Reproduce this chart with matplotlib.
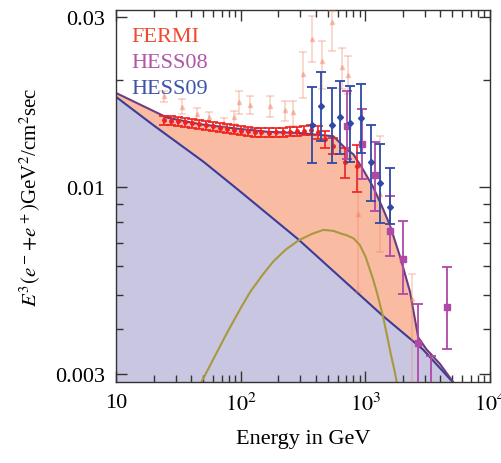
import numpy as np
import matplotlib
matplotlib.use("Agg")
import matplotlib.pyplot as plt
from matplotlib.ticker import FixedLocator, NullFormatter

plt.rcParams['font.family'] = ['Liberation Serif', 'DejaVu Serif']
plt.rcParams['mathtext.fontset'] = 'stix'

# --- model curves (E in GeV, E^3 flux) ---
bg_E = [10, 20, 50, 100, 290, 1000, 1393, 2900, 5000]
bg_F = [0.0179, 0.0149, 0.0118, 0.0097, 0.00714, 0.00483, 0.00435, 0.00351, 0.00285]

dm_E = [47, 60, 77, 100, 119, 150, 182, 230, 290, 370, 459, 553, 650, 700, 800, 900, 1000,
        1100, 1156, 1250, 1393, 1500, 1600, 1700, 1800]
dm_F = [0.0028, 0.0033, 0.0039, 0.0046, 0.0051, 0.0057, 0.0062, 0.0067, 0.0071, 0.0074,
        0.0076, 0.00755, 0.0074, 0.00735, 0.0072, 0.0069, 0.0064, 0.0058, 0.0055, 0.0050,
        0.0043, 0.0038, 0.0034, 0.0031, 0.0028]

tot_E = [10, 25.5, 47.2, 87.3, 161.6, 299, 553, 686, 800, 934, 1157, 1391, 1574, 1895,
         2279, 2656, 3102, 3965, 5041]
tot_F = [0.01837, 0.01569, 0.01503, 0.01465, 0.01432, 0.0142, 0.01391, 0.0129, 0.01238,
         0.01138, 0.0100, 0.00867, 0.00782, 0.0064, 0.0051, 0.00379, 0.00351, 0.0032, 0.00285]

# --- FERMI ---
fermi_E = [24, 27.3, 31.1, 35.4, 40.3, 45.8, 52.1, 59.3, 67.5, 76.8, 87.4, 99.4, 113, 129,
           146, 167, 190, 216, 246, 280, 318, 362, 412, 469, 553, 686, 851]
fermi_F = [0.01543, 0.01538, 0.01532, 0.01522, 0.01513, 0.01503, 0.01494, 0.01484, 0.0147,
           0.0146, 0.01451, 0.01441, 0.01437, 0.01427, 0.01427, 0.01423, 0.01427, 0.01427,
           0.01432, 0.01437, 0.01441, 0.01446, 0.01427, 0.01364, 0.01306, 0.01175, 0.01145]
fermi_err = [0.00046, 0.00046, 0.00046, 0.00046, 0.00045, 0.00045, 0.00045, 0.00045, 0.00044,
             0.00044, 0.00044, 0.00043, 0.00043, 0.00043, 0.00043, 0.00043, 0.00043, 0.00043,
             0.00043, 0.00043, 0.00043, 0.00048, 0.00057, 0.00072, 0.00069, 0.00112, 0.00172]

# --- HESS08 ---
hess08_E = [711, 933, 1194, 1574, 2014, 2654, 3357, 4487]
hess08_F = [0.0149, 0.0132, 0.0108, 0.00754, 0.0063, 0.00366, 0.00275, 0.00461]
hess08_hi = [0.01865, 0.01656, 0.0134, 0.00945, 0.00804, 0.00472, 0.00336, 0.00599]
hess08_lo = [0.0120, 0.01053, 0.00858, 0.0064, 0.00501, 0.0025, 0.0024, 0.00353]

# --- HESS09 ---
hess09_E = [371, 439, 543, 625, 753, 917, 1099, 1303, 1574]
hess09_F = [0.01494, 0.01696, 0.01494, 0.0158, 0.01519, 0.01569, 0.01178, 0.01026, 0.00879]
hess09_hi = [0.01906, 0.02107, 0.01894, 0.0199, 0.01918, 0.01955, 0.01495, 0.0132, 0.01131]
hess09_lo = [0.01173, 0.01346, 0.01168, 0.01238, 0.01178, 0.01246, 0.00915, 0.00796, 0.0079]

# --- faint points in background ---
faint_E = [23.95, 33.6, 44.4, 55.0, 72.5, 87.3, 95.6, 118.7, 171.8, 226.6, 264.2, 317.7,
           371, 446, 537, 646, 729, 877, 1309, 2350]
faint_F = [0.01798, 0.01683, 0.01604, 0.01573, 0.01513, 0.01573, 0.01733, 0.01699, 0.0169,
           0.01645, 0.01624, 0.02077, 0.02605, 0.02259, 0.02901, 0.02173, 0.02064, 0.0084,
           0.00956, 0.00485]
faint_hi = [0.01865, 0.01767, 0.01674, 0.01624, 0.01562, 0.01638, 0.01865, 0.01805, 0.01805,
            0.01747, 0.01747, 0.02389, 0.03028, 0.02576, 0.03121, 0.02452, 0.02329, 0.01138,
            0.01391, 0.0057]
faint_lo = [0.0173, 0.01604, 0.01536, 0.01522, 0.01465, 0.01503, 0.01604, 0.01604, 0.0157,
            0.01536, 0.01486, 0.01786, 0.02249, 0.01885, 0.02414, 0.01885, 0.01825, 0.0051,
            0.00657, 0.00223]


def yerr(F, lo, hi):
    F = np.array(F)
    return [F - np.array(lo), np.array(hi) - F]


fig = plt.figure(figsize=(5.02, 4.64), dpi=100)
ax = fig.add_axes([0.232, 0.175, 0.744, 0.801])

ax.fill_between(tot_E, 1e-4, tot_F, color='#f9bca3', lw=0, zorder=1)
ax.fill_between(bg_E, 1e-4, bg_F, color='#c9c6e1', lw=0, zorder=1.1)
ax.plot(bg_E, bg_F, color='#3b3b98', lw=1.5, zorder=2)
ax.plot(dm_E, dm_F, color='#a8983e', lw=1.5, zorder=2)
ax.plot(tot_E, tot_F, color='#6a3d80', lw=1.5, zorder=2.1)

# faint data
ax.errorbar(faint_E, faint_F, yerr=yerr(faint_F, faint_lo, faint_hi), fmt='^', ms=3,
            color='#f08060', alpha=0.38, capsize=3, elinewidth=1.1, capthick=1.1, zorder=3)

fe = np.array(fermi_err)
ax.errorbar(fermi_E, fermi_F, yerr=fe, fmt='o', ms=2.5, color='#f02020',
            capsize=3.5, elinewidth=1.2, capthick=1.2, zorder=4)
ax.errorbar(hess08_E, hess08_F, yerr=yerr(hess08_F, hess08_lo, hess08_hi), fmt='s', ms=4,
            color='#b048a8', capsize=3.5, elinewidth=1.3, capthick=1.3, zorder=4.2)
ax.errorbar(hess09_E, hess09_F, yerr=yerr(hess09_F, hess09_lo, hess09_hi), fmt='D', ms=3,
            color='#2f4aa6', capsize=3.5, elinewidth=1.3, capthick=1.3, zorder=4.4)

ax.set_xscale('log')
ax.set_yscale('log')
ax.set_xlim(10, 1e4)
ax.set_ylim(0.00285, 0.0314)

ax.xaxis.set_major_locator(FixedLocator([10, 100, 1000, 10000]))
ax.set_xticklabels(['10', r'$10^2$', r'$10^3$', r'$10^4$'])
ax.yaxis.set_major_locator(FixedLocator([0.003, 0.01, 0.03]))
ax.set_yticklabels(['0.003', '0.01', '0.03'])
ax.yaxis.set_minor_locator(FixedLocator([0.004, 0.005, 0.006, 0.007, 0.008, 0.009, 0.02]))
ax.yaxis.set_minor_formatter(NullFormatter())
ax.xaxis.set_minor_formatter(NullFormatter())

ax.tick_params(which='both', direction='in', top=True, right=True, labelsize=16,
               color='#333333', width=1.0)
ax.tick_params(which='major', length=8, pad=8)
ax.tick_params(which='minor', length=5)
for s in ax.spines.values():
    s.set_color('#333333')
    s.set_linewidth(1.0)

ax.set_xlabel('Energy in GeV', fontsize=16, labelpad=10)
ax.set_ylabel(r'$E^3(e^-\!+\!e^+)$GeV$^2$/cm$^2$sec', fontsize=15, labelpad=9)

ax.text(0.04, 0.93, 'FERMI', color='#f04a30', fontsize=16, transform=ax.transAxes,
        va='center', ha='left')
ax.text(0.04, 0.86, 'HESS08', color='#b055a8', fontsize=16, transform=ax.transAxes,
        va='center', ha='left')
ax.text(0.04, 0.79, 'HESS09', color='#3c55a8', fontsize=16, transform=ax.transAxes,
        va='center', ha='left')

fig.savefig('out.png', dpi=100)
